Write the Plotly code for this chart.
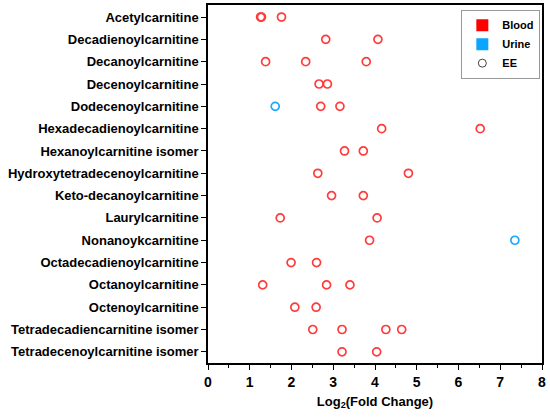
import plotly.graph_objects as go

metabolites = [
    "Acetylcarnitine",
    "Decadienoylcarnitine",
    "Decanoylcarnitine",
    "Decenoylcarnitine",
    "Dodecenoylcarnitine",
    "Hexadecadienoylcarnitine",
    "Hexanoylcarnitine isomer",
    "Hydroxytetradecenoylcarnitine",
    "Keto-decanoylcarnitine",
    "Laurylcarnitine",
    "Nonanoykcarnitine",
    "Octadecadienoylcarnitine",
    "Octanoylcarnitine",
    "Octenoylcarnitine",
    "Tetradecadiencarnitine isomer",
    "Tetradecenoylcarnitine isomer",
]

# blood fold changes (log2), one list per metabolite
blood_values = [
    [1.26, 1.28, 1.76],
    [2.82, 4.07],
    [1.38, 2.34, 3.79],
    [2.66, 2.86],
    [2.70, 3.16],
    [4.16, 6.52],
    [3.27, 3.72],
    [2.63, 4.80],
    [2.96, 3.72],
    [1.73, 4.05],
    [3.87],
    [1.99, 2.60],
    [1.31, 2.84, 3.40],
    [2.08, 2.59],
    [2.51, 3.21, 4.26, 4.64],
    [3.21, 4.04],
]

urine_names = ["Dodecenoylcarnitine", "Nonanoykcarnitine"]
urine_values = [1.61, 7.35]

red = "#FF3B3B"
blue = "#1EA7FF"
fnt = "Liberation Sans, Arial"

bx, by = [], []
for name, vals in zip(metabolites, blood_values):
    for v in vals:
        bx.append(v)
        by.append(name)

fig = go.Figure()
fig.add_trace(go.Scatter(x=bx, y=by, mode="markers", showlegend=False,
                         marker=dict(symbol="circle-open", size=8, color=red, line=dict(width=1.7))))
fig.add_trace(go.Scatter(x=urine_values, y=urine_names, mode="markers", showlegend=False,
                         marker=dict(symbol="circle-open", size=8, color=blue, line=dict(width=1.7))))

# legend only entries
fig.add_trace(go.Scatter(x=[None], y=[None], mode="markers", name="<b>Blood</b>",
                         marker=dict(symbol="square", size=12, color="#FF0000")))
fig.add_trace(go.Scatter(x=[None], y=[None], mode="markers", name="<b>Urine</b>",
                         marker=dict(symbol="square", size=12, color="#0AA5FF")))
fig.add_trace(go.Scatter(x=[None], y=[None], mode="markers", name="<b>EE</b>",
                         marker=dict(symbol="circle-open", size=8, color="#444444", line=dict(width=1))))

fig.update_layout(
    width=550, height=417,
    margin=dict(l=208, r=8, t=5, b=54),
    paper_bgcolor="white", plot_bgcolor="white",
    font=dict(family=fnt, size=12, color="black"),
    legend=dict(x=0.995, y=0.987, xanchor="right", yanchor="top",
                bordercolor="#999999", borderwidth=1, bgcolor="white",
                font=dict(size=11, family=fnt), itemwidth=30,
                tracegroupgap=0),
    xaxis=dict(range=[0, 8], dtick=1, showgrid=False, zeroline=False, automargin=False,
               showline=True, linecolor="black", linewidth=1.5, mirror=True,
               ticks="outside", ticklen=5, tickwidth=1.2, tickcolor="black",
               minor=dict(dtick=0.5, ticks="outside", ticklen=3, tickcolor="black"),
               tickfont=dict(size=14, family=fnt),
               tickprefix="<b>", ticksuffix="</b>",
               title=dict(text="<b>Log<sub>2</sub>(Fold Change)</b>", standoff=8,
                          font=dict(size=13, family=fnt))),
    yaxis=dict(type="category", categoryorder="array", categoryarray=metabolites,
               range=[15.5, -0.54], showgrid=False, zeroline=False, automargin=False,
               showline=True, linecolor="black", linewidth=1.5, mirror=True,
               ticks="outside", ticklen=5, tickwidth=1.2, tickcolor="black",
               tickprefix="<b>", ticksuffix="</b>",
               tickfont=dict(size=13, family=fnt)),
)

# drop the browser's default body margin so the figure sits at 0,0
fig.write_html("out.html", config={"displayModeBar": False},
               post_script="document.body.style.margin='0';")
